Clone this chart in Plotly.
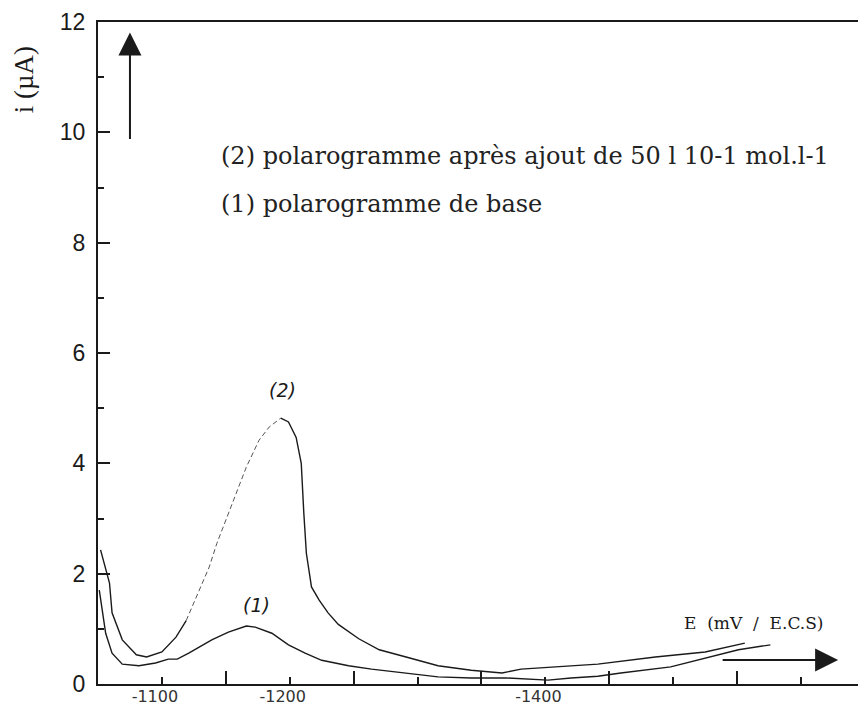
import plotly.graph_objects as go

# ---- data ----
E2 = [-1052, -1059, -1061, -1069, -1080, -1088, -1100, -1111, -1119, -1129,
      -1137, -1143, -1166, -1176, -1184, -1193, -1199, -1205, -1209, -1211,
      -1213, -1217, -1223, -1230, -1238, -1254, -1270, -1291, -1316, -1342,
      -1366, -1381, -1408, -1441, -1486, -1525, -1556]
I2 = [2.43, 1.83, 1.29, 0.80, 0.53, 0.49, 0.58, 0.85, 1.15, 1.70,
      2.12, 2.55, 3.93, 4.42, 4.66, 4.82, 4.75, 4.47, 4.00, 3.10,
      2.37, 1.76, 1.52, 1.29, 1.08, 0.82, 0.62, 0.49, 0.33, 0.25,
      0.20, 0.27, 0.31, 0.36, 0.49, 0.58, 0.74]

E1 = [-1051, -1056, -1061, -1069, -1082, -1095, -1105, -1112, -1121, -1139,
      -1152, -1166, -1173, -1186, -1199, -1212, -1225, -1246, -1264, -1291,
      -1316, -1342, -1369, -1402, -1420, -1441, -1459, -1498, -1522, -1551,
      -1576]
I1 = [1.70, 0.92, 0.56, 0.36, 0.33, 0.38, 0.45, 0.45, 0.56, 0.80,
      0.94, 1.05, 1.03, 0.92, 0.71, 0.56, 0.43, 0.33, 0.27, 0.20,
      0.13, 0.11, 0.11, 0.07, 0.11, 0.14, 0.20, 0.31, 0.45, 0.62,
      0.71]

X_MAJOR = [-1100, -1200, -1300, -1400, -1500, -1600]
X_MINOR = [-1150, -1250, -1350, -1450, -1550]
X_LABELED = [-1100, -1200, -1400]
Y_LABELS = [0, 2, 4, 6, 8, 10, 12]

LEGEND2 = "(2) polarogramme après ajout de 50 l 10-1 mol.l-1"
LEGEND1 = "(1) polarogramme de base"
XTITLE = "E\u00a0\u00a0(mV\u00a0\u00a0/\u00a0\u00a0E.C.S)"
YTITLE = "i (µA)"

INK = "#1a1a1a"

fig = go.Figure()

a = E2.index(-1119)
b = E2.index(-1193)
line_solid = dict(color=INK, width=1.4)
fig.add_trace(go.Scatter(x=E2[:a + 1], y=I2[:a + 1], mode="lines", line=line_solid, showlegend=False))
fig.add_trace(go.Scatter(x=E2[a:b + 1], y=I2[a:b + 1], mode="lines",
                         line=dict(color="#555", width=1.0, dash="5px,3px"), showlegend=False))
fig.add_trace(go.Scatter(x=E2[b:], y=I2[b:], mode="lines", line=line_solid, showlegend=False))
fig.add_trace(go.Scatter(x=E1, y=I1, mode="lines", line=line_solid, showlegend=False))

serif = "DejaVu Serif"

fig.add_annotation(x=-1144.5, y=9.58, text=LEGEND2, showarrow=False, xanchor="left",
                   yanchor="middle", font=dict(family=serif, size=24, color="#222"))
fig.add_annotation(x=-1144.5, y=8.71, text=LEGEND1, showarrow=False, xanchor="left",
                   yanchor="middle", font=dict(family=serif, size=24, color="#222"))
fig.add_annotation(x=-1194, y=5.33, text="(2)", showarrow=False,
                   font=dict(family="DejaVu Sans", size=19, color=INK, style="italic"))
fig.add_annotation(x=-1174, y=1.43, text="(1)", showarrow=False,
                   font=dict(family="DejaVu Sans", size=19, color=INK, style="italic"))
fig.add_annotation(x=-1563, y=1.105, text=XTITLE, showarrow=False,
                   font=dict(family=serif, size=17, color=INK))
fig.add_annotation(xref="paper", yref="paper", x=0, xshift=-74, y=0.912, text=YTITLE,
                   xanchor="center", yanchor="middle",
                   textangle=-90, showarrow=False,
                   font=dict(family="Liberation Serif", size=27, color=INK))

# arrows
fig.add_annotation(x=-1075, y=11.81, ax=0, ay=108, text="", showarrow=True,
                   arrowhead=2, arrowsize=2.3, arrowwidth=2, arrowcolor=INK)
fig.add_annotation(x=-1629, y=0.435, ax=-117, ay=0, text="", showarrow=True,
                   arrowhead=2, arrowsize=2.3, arrowwidth=2, arrowcolor=INK)

fig.update_xaxes(
    range=[-1050, -1650.8], showgrid=False, zeroline=False, automargin=False,
    showline=True, linecolor=INK, linewidth=2, mirror=True,
    tickmode="array", tickvals=X_MAJOR,
    ticktext=[str(v) if v in X_LABELED else "" for v in X_MAJOR],
    ticks="inside", ticklen=7, tickwidth=2, tickcolor=INK,
    ticklabelstandoff=-3, ticklabelshift=7,
    tickfont=dict(family="DejaVu Sans", size=16, color="#333"),
    minor=dict(tickmode="array", tickvals=X_MINOR, ticks="inside", ticklen=13,
               tickwidth=2, tickcolor=INK, showgrid=False),
)
fig.update_yaxes(
    range=[0, 12], showgrid=False, zeroline=False, automargin=False,
    showline=True, linecolor=INK, linewidth=2,
    tickmode="array", tickvals=Y_LABELS, ticktext=[str(v) for v in Y_LABELS],
    ticks="inside", ticklen=12, tickwidth=2, tickcolor=INK,
    ticklabelstandoff=6,
    tickfont=dict(family="Liberation Sans", size=23, color=INK),
    minor=dict(dtick=1, ticks="inside", ticklen=6, tickwidth=2, tickcolor=INK, showgrid=False),
)

# the page body adds an 8px margin, so the figure is 8px smaller on each side
fig.update_layout(
    width=858, height=707,
    margin=dict(l=90, r=0, t=14, b=31),
    paper_bgcolor="white", plot_bgcolor="white",
    showlegend=False,
)

fig.write_html("out.html")
